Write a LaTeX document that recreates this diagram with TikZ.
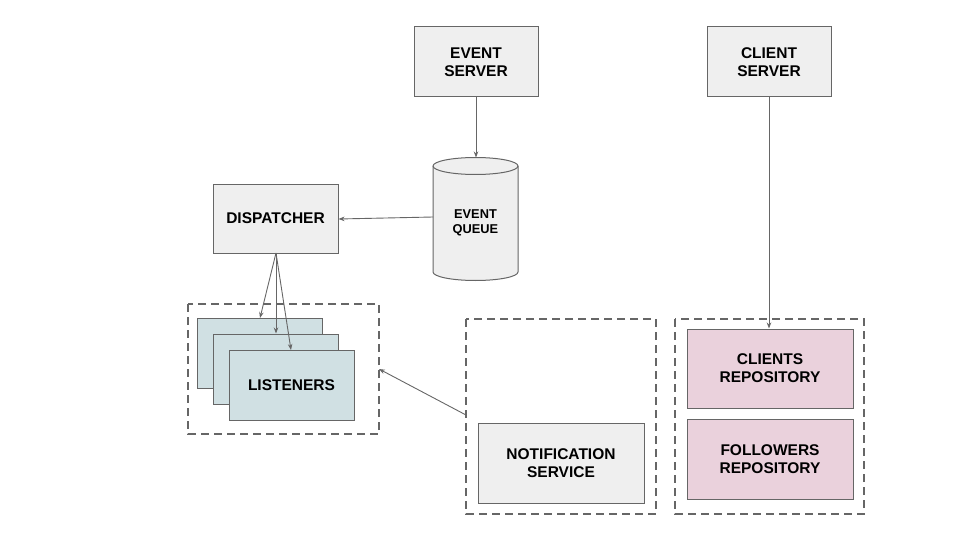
\documentclass[tikz,border=0pt]{standalone}
\usepackage{fontspec}
\setmainfont{Liberation Sans}
\usetikzlibrary{arrows.meta}
\definecolor{boxfill}{HTML}{EFEFEF}
\definecolor{edge}{HTML}{666666}
\definecolor{listfill}{HTML}{D0E0E3}
\definecolor{repofill}{HTML}{EAD1DC}
\begin{document}
\begin{tikzpicture}[x=1pt,y=-1pt,
  box/.style={draw=edge,line width=1pt,fill=boxfill,align=center,font=\fontsize{15.5}{18}\selectfont\bfseries,inner sep=0pt},
  cyl/.style={draw=edge,line width=1pt,fill=boxfill},
  group/.style={draw=edge,line width=1.6pt,dash pattern=on 8pt off 5pt},
  conn/.style={draw=edge,line width=0.9pt,-{Stealth[length=6pt,width=4.5pt]}}]
\useasboundingbox (0,0) rectangle (960,540);
% groups
\draw[group] (188,304) rectangle (379,434);
\coordinate (lgrp) at (379,369);
\draw[group] (466,319) rectangle (656,514);
\coordinate (ngrp) at (466,415);
\draw[group] (675,319) rectangle (864,514);
% top servers
\node[box,minimum width=124pt,minimum height=70pt] (es) at (476,62) {EVENT\\SERVER};
\node[box,minimum width=124pt,minimum height=70pt] (cs) at (769,62) {CLIENT\\SERVER};
% queue cylinder
\path[cyl] (433,166) -- (433,272)
  arc[start angle=180,end angle=0,x radius=42.5,y radius=8.5] -- (518,166)
  arc[start angle=0,end angle=-180,x radius=42.5,y radius=8.5] -- cycle;
\draw[edge,line width=1pt] (433,166) arc[start angle=180,end angle=0,x radius=42.5,y radius=8.5];
\node[font=\fontsize{12.8}{15.5}\selectfont\bfseries,align=center,minimum width=85pt,inner sep=0pt] (eq) at (475.5,223) {EVENT\\QUEUE};
\coordinate (eqtop) at (476,157.5);
\coordinate (eqleft) at (433,217);
% dispatcher
\node[box,minimum width=125pt,minimum height=69pt] (disp) at (275.5,218.5) {DISPATCHER};
% listeners
\node[box,fill=listfill,minimum width=125pt,minimum height=70pt] (l1) at (259.5,353) {};
\node[box,fill=listfill,minimum width=125pt,minimum height=70pt] (l2) at (275.5,369) {};
\node[box,fill=listfill,minimum width=125pt,minimum height=70pt] (l3) at (291.5,385) {LISTENERS};
% notification
\node[box,minimum width=166pt,minimum height=80pt] (ns) at (561,463) {NOTIFICATION\\SERVICE};
% repositories
\node[box,fill=repofill,minimum width=166pt,minimum height=79pt] (cr) at (770,368.5) {CLIENTS\\REPOSITORY};
\node[box,fill=repofill,minimum width=166pt,minimum height=80pt] (fr) at (770,459) {FOLLOWERS\\REPOSITORY};
% connectors
\coordinate (dsrc) at (276,253);
\draw[conn] (es.south -| eqtop) -- (eqtop);
\draw[conn] (eqleft) -- (disp.east |- 0,219);
\draw[conn] (dsrc) -- (260,318);
\draw[conn] (dsrc) -- (l2.north -| dsrc);
\draw[conn] (dsrc) -- (291,350);
\draw[conn] (cs.south) -- (cr.north -| cs.south);
\draw[conn] (ngrp) -- (lgrp);
\end{tikzpicture}
\end{document}
